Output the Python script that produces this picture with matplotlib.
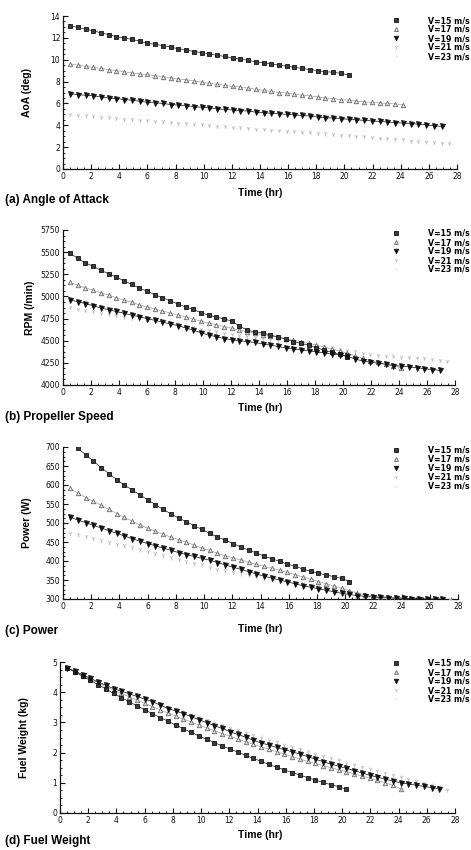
import matplotlib
matplotlib.use("Agg")
import matplotlib.pyplot as plt
from matplotlib.ticker import MultipleLocator

# ---------------- data ----------------
time_hr = [0.5, 1.05, 1.6, 2.15, 2.7, 3.25, 3.8, 4.35, 4.9, 5.45, 6.0, 6.55, 7.1, 7.65,
           8.2, 8.75, 9.3, 9.85, 10.4, 10.95, 11.5, 12.05, 12.6, 13.15, 13.7, 14.25,
           14.8, 15.35, 15.9, 16.45, 17.0, 17.55, 18.1, 18.65, 19.2, 19.75, 20.3,
           20.85, 21.4, 21.95, 22.5, 23.05, 23.6, 24.15, 24.7, 25.25, 25.8, 26.35,
           26.9, 27.45]

series_labels = ["V=15 m/s", "V=17 m/s", "V=19 m/s", "V=21 m/s", "V=23 m/s"]

# (a) angle of attack, deg
aoa_v15 = [13.1, 12.95, 12.8, 12.65, 12.45, 12.3, 12.1, 12.0, 11.85, 11.7, 11.5, 11.4,
           11.3, 11.15, 11.0, 10.9, 10.75, 10.65, 10.55, 10.4, 10.3, 10.15, 10.05, 9.95,
           9.8, 9.7, 9.6, 9.5, 9.4, 9.3, 9.2, 9.1, 9.0, 8.9, 8.85, 8.75, 8.6]
aoa_v17 = [9.6, 9.5, 9.4, 9.3, 9.2, 9.1, 9.0, 8.9, 8.8, 8.7, 8.65, 8.55, 8.45, 8.35,
           8.25, 8.15, 8.05, 7.95, 7.85, 7.75, 7.65, 7.55, 7.5, 7.4, 7.3, 7.2, 7.1, 7.0,
           6.95, 6.85, 6.75, 6.7, 6.6, 6.5, 6.45, 6.35, 6.3, 6.2, 6.15, 6.1, 6.05, 6.0,
           5.95, 5.9]
aoa_v19 = [6.9, 6.8, 6.75, 6.7, 6.6, 6.5, 6.45, 6.35, 6.3, 6.2, 6.1, 6.05, 6.0, 5.9,
           5.85, 5.8, 5.7, 5.65, 5.6, 5.5, 5.45, 5.4, 5.35, 5.3, 5.2, 5.15, 5.1, 5.05,
           5.0, 4.95, 4.9, 4.85, 4.75, 4.7, 4.65, 4.6, 4.55, 4.5, 4.45, 4.4, 4.35, 4.3,
           4.25, 4.2, 4.15, 4.1, 4.05, 3.95, 3.9]
aoa_v21 = [5.0, 4.95, 4.9, 4.85, 4.8, 4.75, 4.7, 4.6, 4.55, 4.5, 4.45, 4.4, 4.35, 4.3,
           4.25, 4.2, 4.15, 4.1, 4.0, 3.95, 3.9, 3.85, 3.8, 3.75, 3.7, 3.65, 3.6, 3.55,
           3.5, 3.45, 3.4, 3.35, 3.3, 3.25, 3.2, 3.15, 3.1, 3.05, 3.0, 2.9, 2.85, 2.8,
           2.75, 2.7, 2.6, 2.55, 2.5, 2.45, 2.4, 2.35]
aoa_v23 = [4.9, 4.85, 4.8, 4.75, 4.7, 4.65, 4.6, 4.5, 4.45, 4.4, 4.35, 4.3, 4.25, 4.2,
           4.15, 4.1, 4.05, 4.0, 3.9, 3.85, 3.8, 3.75, 3.7, 3.65, 3.6, 3.55, 3.5, 3.45,
           3.4, 3.35, 3.3, 3.25, 3.2, 3.15, 3.1, 3.05, 3.0, 2.95, 2.9, 2.85, 2.8, 2.75,
           2.7, 2.65, 2.55, 2.5, 2.45, 2.4, 2.35, 2.3]

# (b) propeller speed, rpm
rpm_v15 = [5487, 5430, 5380, 5340, 5295, 5257, 5220, 5175, 5137, 5095, 5060, 5020, 4985,
           4952, 4915, 4882, 4855, 4815, 4790, 4768, 4745, 4723, 4665, 4620, 4598, 4587,
           4565, 4542, 4520, 4490, 4470, 4450, 4420, 4395, 4370, 4345, 4320]
rpm_v17 = [5159, 5128, 5095, 5070, 5042, 5015, 4985, 4960, 4935, 4905, 4880, 4860, 4835,
           4815, 4790, 4770, 4745, 4720, 4700, 4680, 4660, 4640, 4620, 4600, 4585, 4570,
           4555, 4540, 4520, 4505, 4490, 4470, 4450, 4430, 4405, 4385, 4360, 4330, 4300,
           4275, 4255, 4235, 4215, 4195]
rpm_v19 = [4960, 4940, 4920, 4895, 4870, 4850, 4830, 4810, 4790, 4770, 4750, 4730, 4710,
           4690, 4670, 4645, 4620, 4590, 4565, 4545, 4525, 4510, 4500, 4490, 4480, 4465,
           4450, 4435, 4420, 4410, 4395, 4385, 4375, 4360, 4350, 4340, 4325, 4295, 4270,
           4258, 4245, 4235, 4220, 4212, 4205, 4195, 4185, 4175, 4165]
rpm_v21 = [4880, 4860, 4845, 4830, 4815, 4800, 4785, 4770, 4760, 4750, 4735, 4720, 4710,
           4695, 4680, 4665, 4650, 4635, 4620, 4605, 4590, 4575, 4560, 4550, 4540, 4530,
           4515, 4505, 4495, 4485, 4475, 4460, 4450, 4440, 4425, 4410, 4395, 4380, 4365,
           4350, 4340, 4330, 4325, 4320, 4315, 4310, 4300, 4295, 4285, 4275]
rpm_v23 = [4870, 4850, 4835, 4820, 4805, 4790, 4775, 4760, 4750, 4740, 4725, 4710, 4700,
           4685, 4670, 4655, 4640, 4625, 4610, 4595, 4580, 4565, 4550, 4540, 4530, 4520,
           4505, 4495, 4485, 4475, 4465, 4450, 4440, 4430, 4415, 4400, 4385, 4370, 4355,
           4340, 4330, 4320, 4315, 4310, 4305, 4300, 4290, 4285, 4275, 4265]

# (c) power, W
pow_v15 = [715, 697, 680, 663, 646, 630, 614, 600, 587, 574, 561, 548, 536, 524, 513,
           503, 493, 483, 473, 463, 455, 446, 437, 429, 421, 413, 406, 399, 392, 386,
           379, 373, 368, 363, 359, 354, 346]
pow_v17 = [591, 579, 567, 557, 547, 536, 525, 515, 505, 495, 486, 478, 470, 463, 456,
           449, 442, 434, 428, 420, 414, 408, 403, 397, 391, 386, 381, 376, 370, 364,
           358, 352, 346, 340, 334, 328, 322, 316, 311, 308, 306, 305, 304, 303]
pow_v19 = [515, 508, 501, 494, 487, 480, 473, 466, 459, 452, 446, 440, 434, 428, 422,
           417, 412, 407, 402, 396, 390, 384, 378, 372, 366, 360, 355, 350, 345, 340,
           335, 331, 327, 323, 319, 315, 312, 309, 307, 305, 304, 303, 302, 302, 301,
           301, 300, 300, 300]
pow_v21 = [473, 470, 466, 461, 456, 451, 446, 441, 436, 431, 426, 421, 416, 411, 406,
           401, 396, 391, 384, 380, 376, 372, 368, 364, 360, 356, 353, 350, 347, 344,
           341, 338, 335, 332, 329, 326, 322, 316, 312, 309, 307, 306, 305, 304, 303,
           303, 302, 302, 301, 301]
pow_v23 = [468, 465, 461, 456, 451, 446, 441, 436, 431, 426, 421, 416, 411, 406, 401,
           396, 391, 386, 380, 376, 372, 368, 364, 360, 356, 352, 349, 346, 343, 340,
           337, 334, 331, 328, 325, 322, 318, 313, 309, 306, 304, 303, 302, 301, 301,
           300, 300, 300, 300, 300]

# (d) fuel weight, kg
fuel_v15 = [4.8, 4.67, 4.53, 4.39, 4.25, 4.11, 3.96, 3.82, 3.68, 3.55, 3.42, 3.29, 3.16,
            3.04, 2.91, 2.79, 2.67, 2.55, 2.44, 2.33, 2.22, 2.12, 2.02, 1.91, 1.81, 1.71,
            1.61, 1.52, 1.43, 1.34, 1.26, 1.17, 1.09, 1.01, 0.94, 0.87, 0.79]
fuel_v17 = [4.8, 4.68, 4.55, 4.43, 4.31, 4.19, 4.07, 3.96, 3.85, 3.74, 3.63, 3.52, 3.42,
            3.31, 3.21, 3.11, 3.01, 2.91, 2.82, 2.72, 2.63, 2.54, 2.45, 2.36, 2.28, 2.19,
            2.11, 2.03, 1.95, 1.87, 1.79, 1.71, 1.64, 1.57, 1.5, 1.43, 1.37, 1.3, 1.23,
            1.15, 1.08, 1.0, 0.92, 0.8]
fuel_v19 = [4.8, 4.7, 4.58, 4.46, 4.34, 4.23, 4.12, 4.03, 3.95, 3.86, 3.77, 3.69, 3.57,
            3.46, 3.38, 3.29, 3.19, 3.09, 2.99, 2.89, 2.8, 2.69, 2.6, 2.51, 2.41, 2.32,
            2.25, 2.17, 2.1, 2.03, 1.95, 1.87, 1.78, 1.7, 1.62, 1.55, 1.48, 1.4, 1.33,
            1.25, 1.19, 1.12, 1.06, 1.0, 0.96, 0.92, 0.88, 0.84, 0.8]
fuel_v21 = [4.8, 4.7, 4.59, 4.48, 4.37, 4.27, 4.17, 4.07, 3.97, 3.88, 3.79, 3.7, 3.61,
            3.52, 3.43, 3.34, 3.25, 3.16, 3.08, 2.99, 2.91, 2.82, 2.74, 2.66, 2.58, 2.5,
            2.42, 2.34, 2.26, 2.18, 2.11, 2.03, 1.96, 1.88, 1.81, 1.74, 1.67, 1.6, 1.53,
            1.46, 1.39, 1.32, 1.26, 1.19, 1.12, 1.05, 0.99, 0.92, 0.85, 0.75]
fuel_v23 = [4.8, 4.71, 4.6, 4.5, 4.39, 4.29, 4.19, 4.09, 4.0, 3.91, 3.82, 3.73, 3.64,
            3.55, 3.46, 3.37, 3.28, 3.2, 3.11, 3.03, 2.94, 2.86, 2.78, 2.7, 2.62, 2.54,
            2.46, 2.38, 2.3, 2.22, 2.15, 2.07, 2.0, 1.92, 1.85, 1.78, 1.71, 1.64, 1.57,
            1.5, 1.43, 1.36, 1.3, 1.23, 1.16, 1.09, 1.03, 0.96, 0.89, 0.8]

x_ticks = [0, 2, 4, 6, 8, 10, 12, 14, 16, 18, 20, 22, 24, 26, 28]
aoa_ticks = [0, 2, 4, 6, 8, 10, 12, 14]
rpm_ticks = [4000, 4250, 4500, 4750, 5000, 5250, 5500, 5750]
pow_ticks = [300, 350, 400, 450, 500, 550, 600, 650, 700]
fuel_ticks = [0, 1, 2, 3, 4, 5]

# ---------------- styling ----------------
W, H = 471, 850
fig = plt.figure(figsize=(W / 100, H / 100), dpi=100)
fig.patch.set_facecolor("white")

LAB = dict(family=["Liberation Sans", "DejaVu Sans"], weight="bold")

styles = [
    dict(marker="s", ms=3.4, color="#1e1e1e", mfc="#3a3a3a", mec="#111111", lw=0.5, ls="-"),
    dict(marker="^", ms=3.2, color="#8a8a8a", mfc="#e0e0e0", mec="#6a6a6a", lw=0.4, ls="-"),
    dict(marker="v", ms=3.6, color="#111111", mfc="#111111", mec="#111111", lw=0.5, ls="-"),
    dict(marker="1", ms=3.0, color="#c4c4c4", mfc="#c4c4c4", mec="#b8b8b8", lw=0.0, ls="none"),
    dict(marker=".", ms=2.0, color="#e6e6e6", mfc="#e6e6e6", mec="#e6e6e6", lw=0.0, ls="none"),
]


def px_rect(left, right, top, bottom):
    return [left / W, 1 - bottom / H, (right - left) / W, (bottom - top) / H]


panels = [
    dict(rect=px_rect(63, 457, 16, 169), data=[aoa_v15, aoa_v17, aoa_v19, aoa_v21, aoa_v23],
         yticks=aoa_ticks, ylim=(0, 14), yminor=0.5, ylabel="AoA (deg)", ylx=32,
         caption="(a) Angle of Attack", cap_y=200, xl_y=193, leg_top=16),
    dict(rect=px_rect(63, 455, 230, 385), data=[rpm_v15, rpm_v17, rpm_v19, rpm_v21, rpm_v23],
         yticks=rpm_ticks, ylim=(4000, 5750), yminor=62.5, ylabel="RPM (/min)", ylx=35,
         caption="(b) Propeller Speed", cap_y=417, xl_y=408, leg_top=229),
    dict(rect=px_rect(63, 458, 447, 599), data=[pow_v15, pow_v17, pow_v19, pow_v21, pow_v23],
         yticks=pow_ticks, ylim=(300, 700), yminor=12.5, ylabel="Power (W)", ylx=32,
         caption="(c) Power", cap_y=631, xl_y=629, leg_top=446),
    dict(rect=px_rect(60, 455, 662, 813), data=[fuel_v15, fuel_v17, fuel_v19, fuel_v21, fuel_v23],
         yticks=fuel_ticks, ylim=(0, 5), yminor=0.25, ylabel="Fuel Weight (kg)", ylx=29,
         caption="(d) Fuel Weight", cap_y=841, xl_y=835, leg_top=659),
]

for p in panels:
    ax = fig.add_axes(p["rect"])
    order = [4, 3, 1, 0, 2]
    hmap = {}
    for i in order:
        vals = p["data"][i]
        st = styles[i]
        h, = ax.plot(time_hr[:len(vals)], vals, marker=st["marker"], ms=st["ms"],
                     color=st["color"], mfc=st["mfc"], mec=st["mec"], mew=0.6,
                     lw=st["lw"], ls=st["ls"], zorder=3 + (i in (0, 2)))
        hmap[i] = h
    handles = [hmap[i] for i in range(5)]

    ax.set_xlim(0, 28)
    ax.set_ylim(*p["ylim"])
    ax.set_xticks(x_ticks)
    ax.set_yticks(p["yticks"])
    ax.xaxis.set_minor_locator(MultipleLocator(0.5))
    ax.yaxis.set_minor_locator(MultipleLocator(p["yminor"]))
    for s in ("top", "right"):
        ax.spines[s].set_visible(False)
    for s in ("left", "bottom"):
        ax.spines[s].set_linewidth(0.9)
        ax.spines[s].set_color("#111111")
    ax.tick_params(which="major", direction="in", length=3.5, width=0.8, pad=2,
                   labelsize=5.5, colors="#111111")
    ax.tick_params(which="minor", direction="in", length=1.6, width=0.6)
    for lab in ax.get_xticklabels() + ax.get_yticklabels():
        lab.set_family(["DejaVu Sans"])

    ax.set_ylabel(p["ylabel"], fontsize=7.5, **LAB)
    ax.yaxis.set_label_coords((p["ylx"] - p["rect"][0] * W) / (p["rect"][2] * W), 0.5)

    fig.text(260 / W, 1 - p["xl_y"] / H, "Time (hr)", ha="center", va="center",
             fontsize=7.5, **LAB)
    fig.text(5 / W, 1 - p["cap_y"] / H, p["caption"], ha="left", va="center",
             fontsize=8.5, **LAB)

    leg = ax.legend(handles, series_labels, loc="upper right",
                    bbox_to_anchor=(470 / W, 1 - p["leg_top"] / H),
                    bbox_transform=fig.transFigure, frameon=False,
                    prop=dict(family=["DejaVu Sans"], weight="bold", size=5.6),
                    handlelength=1.0, handletextpad=3.6, labelspacing=0.0,
                    borderpad=0.0, borderaxespad=0.0, markerscale=0.9)
    for line in leg.get_lines():
        line.set_linestyle("none")

fig.savefig("out.png", dpi=100, facecolor="white")
